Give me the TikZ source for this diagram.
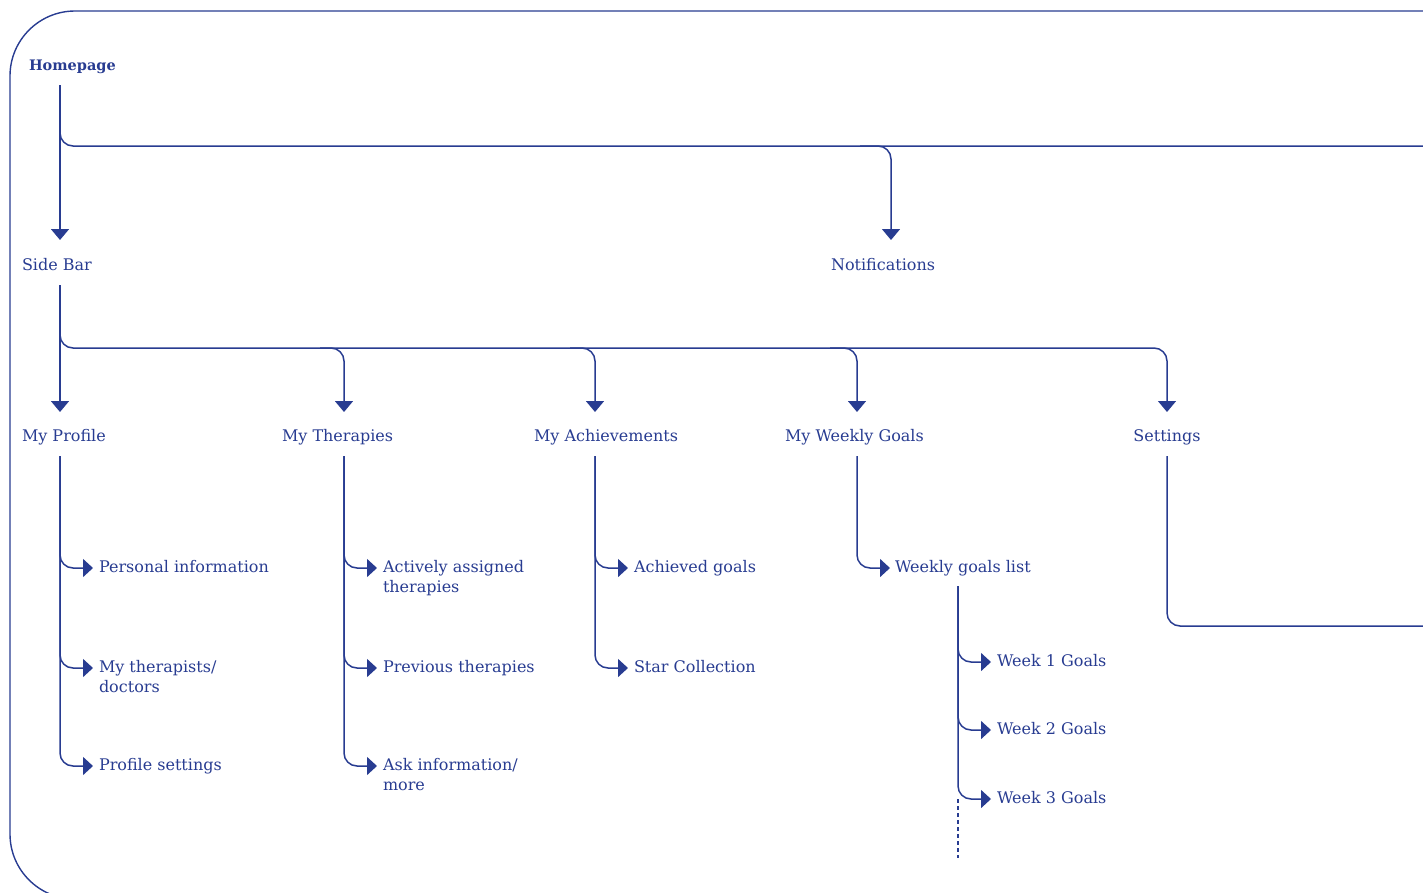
\documentclass[tikz,border=0pt]{standalone}
\usepackage{fontspec}
\setmainfont{DejaVu Serif}
\usetikzlibrary{arrows.meta}
\definecolor{navy}{RGB}{40,60,145}
\newcommand{\twol}[2]{\begin{tabular}[t]{@{}l@{}}#1\\#2\end{tabular}}
\begin{document}
\begin{tikzpicture}[x=1pt,y=-1pt,
  conn/.style={draw=navy,line width=1.5pt,rounded corners=13pt},
  down/.style={conn,-{Triangle[width=18pt,length=11pt]}},
  right/.style={conn,-{Triangle[width=18pt,length=10pt]},shorten >=6pt},
  lbl/.style={anchor=base west,text=navy,inner sep=0pt,outer sep=0pt,
    font=\fontsize{16}{20}\selectfont,text height=10pt,text depth=3pt},
  frame/.style={draw=navy,line width=1.4pt,rounded corners=65pt}]
\useasboundingbox (0,0) rectangle (1423,892);
\begin{scope}
\clip (0,0) rectangle (1423,892);
\draw[frame] (10,11) rectangle (1600,899);
\end{scope}
% trunk x positions
\coordinate (xa) at (60,0);
\coordinate (xn) at (891,0);
\coordinate (xt) at (344,0);
\coordinate (xc) at (595,0);
\coordinate (xw) at (857,0);
\coordinate (xs) at (1167,0);
\coordinate (xl) at (958,0);
% labels
\node[lbl,font=\fontsize{14.5}{20}\selectfont\bfseries] (home) at (29,70) {Homepage};
\node[lbl] (side) at (22,270) {Side Bar};
\node[lbl] (notif) at (831,270) {Notifications};
\node[lbl] (prof) at (22,441) {My Profile};
\node[lbl] (ther) at (282,441) {My Therapies};
\node[lbl] (ach) at (534,441) {My Achievements};
\node[lbl] (wg) at (785,441) {My Weekly Goals};
\node[lbl,anchor=base] (sett) at (1167,441) {Settings};
\node[lbl] (pi) at (99,572) {Personal information};
\node[lbl] (mtd) at (99,672) {\twol{My therapists/}{doctors}};
\node[lbl] (ps) at (99,770) {Profile settings};
\node[lbl] (aat) at (383,572) {\twol{Actively assigned}{therapies}};
\node[lbl] (prev) at (383,672) {Previous therapies};
\node[lbl] (ask) at (383,770) {\twol{Ask information/}{more}};
\node[lbl] (agoal) at (634,572) {Achieved goals};
\node[lbl] (star) at (634,672) {Star Collection};
\node[lbl] (wgl) at (895,572) {Weekly goals list};
\node[lbl] (w1) at (997,666) {Week 1 Goals};
\node[lbl] (w2) at (997,734) {Week 2 Goals};
\node[lbl] (w3) at (997,803) {Week 3 Goals};
% junction coordinates
\coordinate (hr) at (1440,146);
\coordinate (hn) at (860,146);
\coordinate (h2) at (1167,348);
\coordinate (bt) at (320,348);
\coordinate (bc) at (570,348);
\coordinate (bw) at (830,348);
\coordinate (sr) at (1440,626);
\coordinate (wend) at (958,858);
% Homepage
\draw[down,shorten <=12pt,shorten >=20pt] (home.south -| xa) -- (side.north -| xa);
\draw[conn,shorten <=12pt] (home.south -| xa) |- (hr);
\draw[down,shorten >=20pt] (hn) -| (notif.north -| xn);
% Side Bar
\draw[down,shorten <=12pt,shorten >=19pt] (side.south -| xa) -- (prof.north -| xa);
\draw[down,shorten <=12pt,shorten >=19pt] (side.south -| xa) |- (h2) -- (sett.north -| xs);
\draw[down,shorten >=19pt] (bt) -| (ther.north -| xt);
\draw[down,shorten >=19pt] (bc) -| (ach.north -| xc);
\draw[down,shorten >=19pt] (bw) -| (wg.north -| xw);
% My Profile
\draw[right,shorten <=12pt] (prof.south -| xa) |- ([yshift=4pt]pi.base west);
\draw[right,shorten <=12pt] (prof.south -| xa) |- ([yshift=4pt]mtd.base west);
\draw[right,shorten <=12pt] (prof.south -| xa) |- ([yshift=4pt]ps.base west);
% My Therapies
\draw[right,shorten <=12pt] (ther.south -| xt) |- ([yshift=4pt]aat.base west);
\draw[right,shorten <=12pt] (ther.south -| xt) |- ([yshift=4pt]prev.base west);
\draw[right,shorten <=12pt] (ther.south -| xt) |- ([yshift=4pt]ask.base west);
% My Achievements
\draw[right,shorten <=12pt] (ach.south -| xc) |- ([yshift=4pt]agoal.base west);
\draw[right,shorten <=12pt] (ach.south -| xc) |- ([yshift=4pt]star.base west);
% My Weekly Goals
\draw[right,shorten <=12pt,shorten >=5pt] (wg.south -| xw) |- ([yshift=4pt]wgl.base west);
\draw[right,shorten <=11pt] (wgl.south -| xl) |- ([yshift=4pt]w1.base west);
\draw[right,shorten <=11pt] (wgl.south -| xl) |- ([yshift=4pt]w2.base west);
\draw[right,shorten <=11pt] (wgl.south -| xl) |- ([yshift=4pt]w3.base west);
\draw[conn,dash pattern=on 4pt off 3pt] ([yshift=4pt]w3.base west -| xl) -- (wend);
% Settings
\draw[conn,shorten <=12pt] (sett.south -| xs) |- (sr);
\end{tikzpicture}
\end{document}
